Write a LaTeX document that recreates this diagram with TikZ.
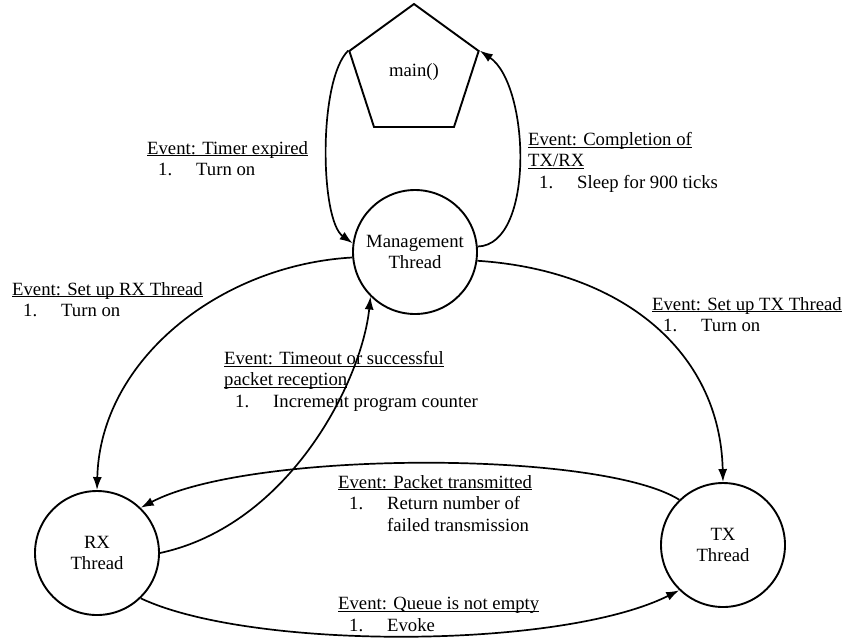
\documentclass[tikz,border=0pt]{standalone}
\usepackage{fontspec}
\setmainfont{Liberation Serif}
\usetikzlibrary{shapes.geometric,arrows.meta}

\newsavebox\evbox
\newcommand\evt[1]{\sbox\evbox{#1}\rlap{\rule[-2.2pt]{\wd\evbox}{1pt}}\usebox\evbox}
\newcommand\evitem[1]{\hspace*{11pt}\makebox[38pt][l]{1.}#1}

\tikzset{
  state/.style={shape=circle,draw=black,line width=1.9pt,minimum size=124pt,inner sep=0pt,align=center},
  lbl/.style={anchor=north west,inner sep=0pt,align=left},
  flow/.style={-{Latex[length=13pt,width=9pt]},line width=1.7pt},
}

\begin{document}
\begin{tikzpicture}[x=1pt,y=-1pt,font=\fontsize{18.7}{21.5}\selectfont]
    \useasboundingbox (0,0) rectangle (842,641);

    \node[shape=regular polygon,regular polygon sides=5,draw=black,line width=1.9pt,minimum size=136pt,inner sep=0pt] (mainfn) at (414,72) {main()};
    \node[state] (mgmt) at (415,252) {Management\\Thread};
    \node[state] (rx) at (97,553) {RX\\Thread};
    \node[state] (tx) at (723,545) {TX\\Thread};

    % event labels
    \node[lbl] (lbltimer) at (147,141) {\evt{Event: Timer expired}\\\evitem{Turn on}};
    \node[lbl] (lbldone) at (528,132) {\evt{Event: Completion of}\\\evt{TX/RX}\\\evitem{Sleep for 900 ticks}};
    \node[lbl] (lblrx) at (12,282) {\evt{Event: Set up RX Thread}\\\evitem{Turn on}};
    \node[lbl] (lbltx) at (652,297) {\evt{Event: Set up TX Thread}\\\evitem{Turn on}};
    \node[lbl] (lbltimeout) at (224,351) {\evt{Event: Timeout or successful}\\\evt{packet reception}\\\evitem{Increment program counter}};
    \node[lbl] (lblsent) at (338,475) {\evt{Event: Packet transmitted}\\\evitem{Return number of}\\\hspace*{49pt}failed transmission};
    \node[lbl] (lblqueue) at (338,597) {\evt{Event: Queue is not empty}\\\evitem{Evoke}};

    \draw[flow] (mainfn.corner 2) .. controls (318,80) and (320,220) .. (mgmt.172);
    \draw[flow] (mgmt.5) .. controls (535,245) and (530,85) .. (mainfn.corner 5);
    \draw[flow] (mgmt.-8) .. controls (620,270) and (720,350) .. (tx.north);
    \draw[flow] (mgmt.185) .. controls (220,265) and (100,360) .. (rx.north);
    \draw[flow] (rx.east) .. controls (290,525) and (362,380) .. (mgmt.225);
    \draw[flow] (tx.134) .. controls (600,450) and (250,450) .. (rx.46);
    \draw[flow] (rx.-46) .. controls (250,650) and (560,650) .. (tx.-134);
\end{tikzpicture}
\end{document}
